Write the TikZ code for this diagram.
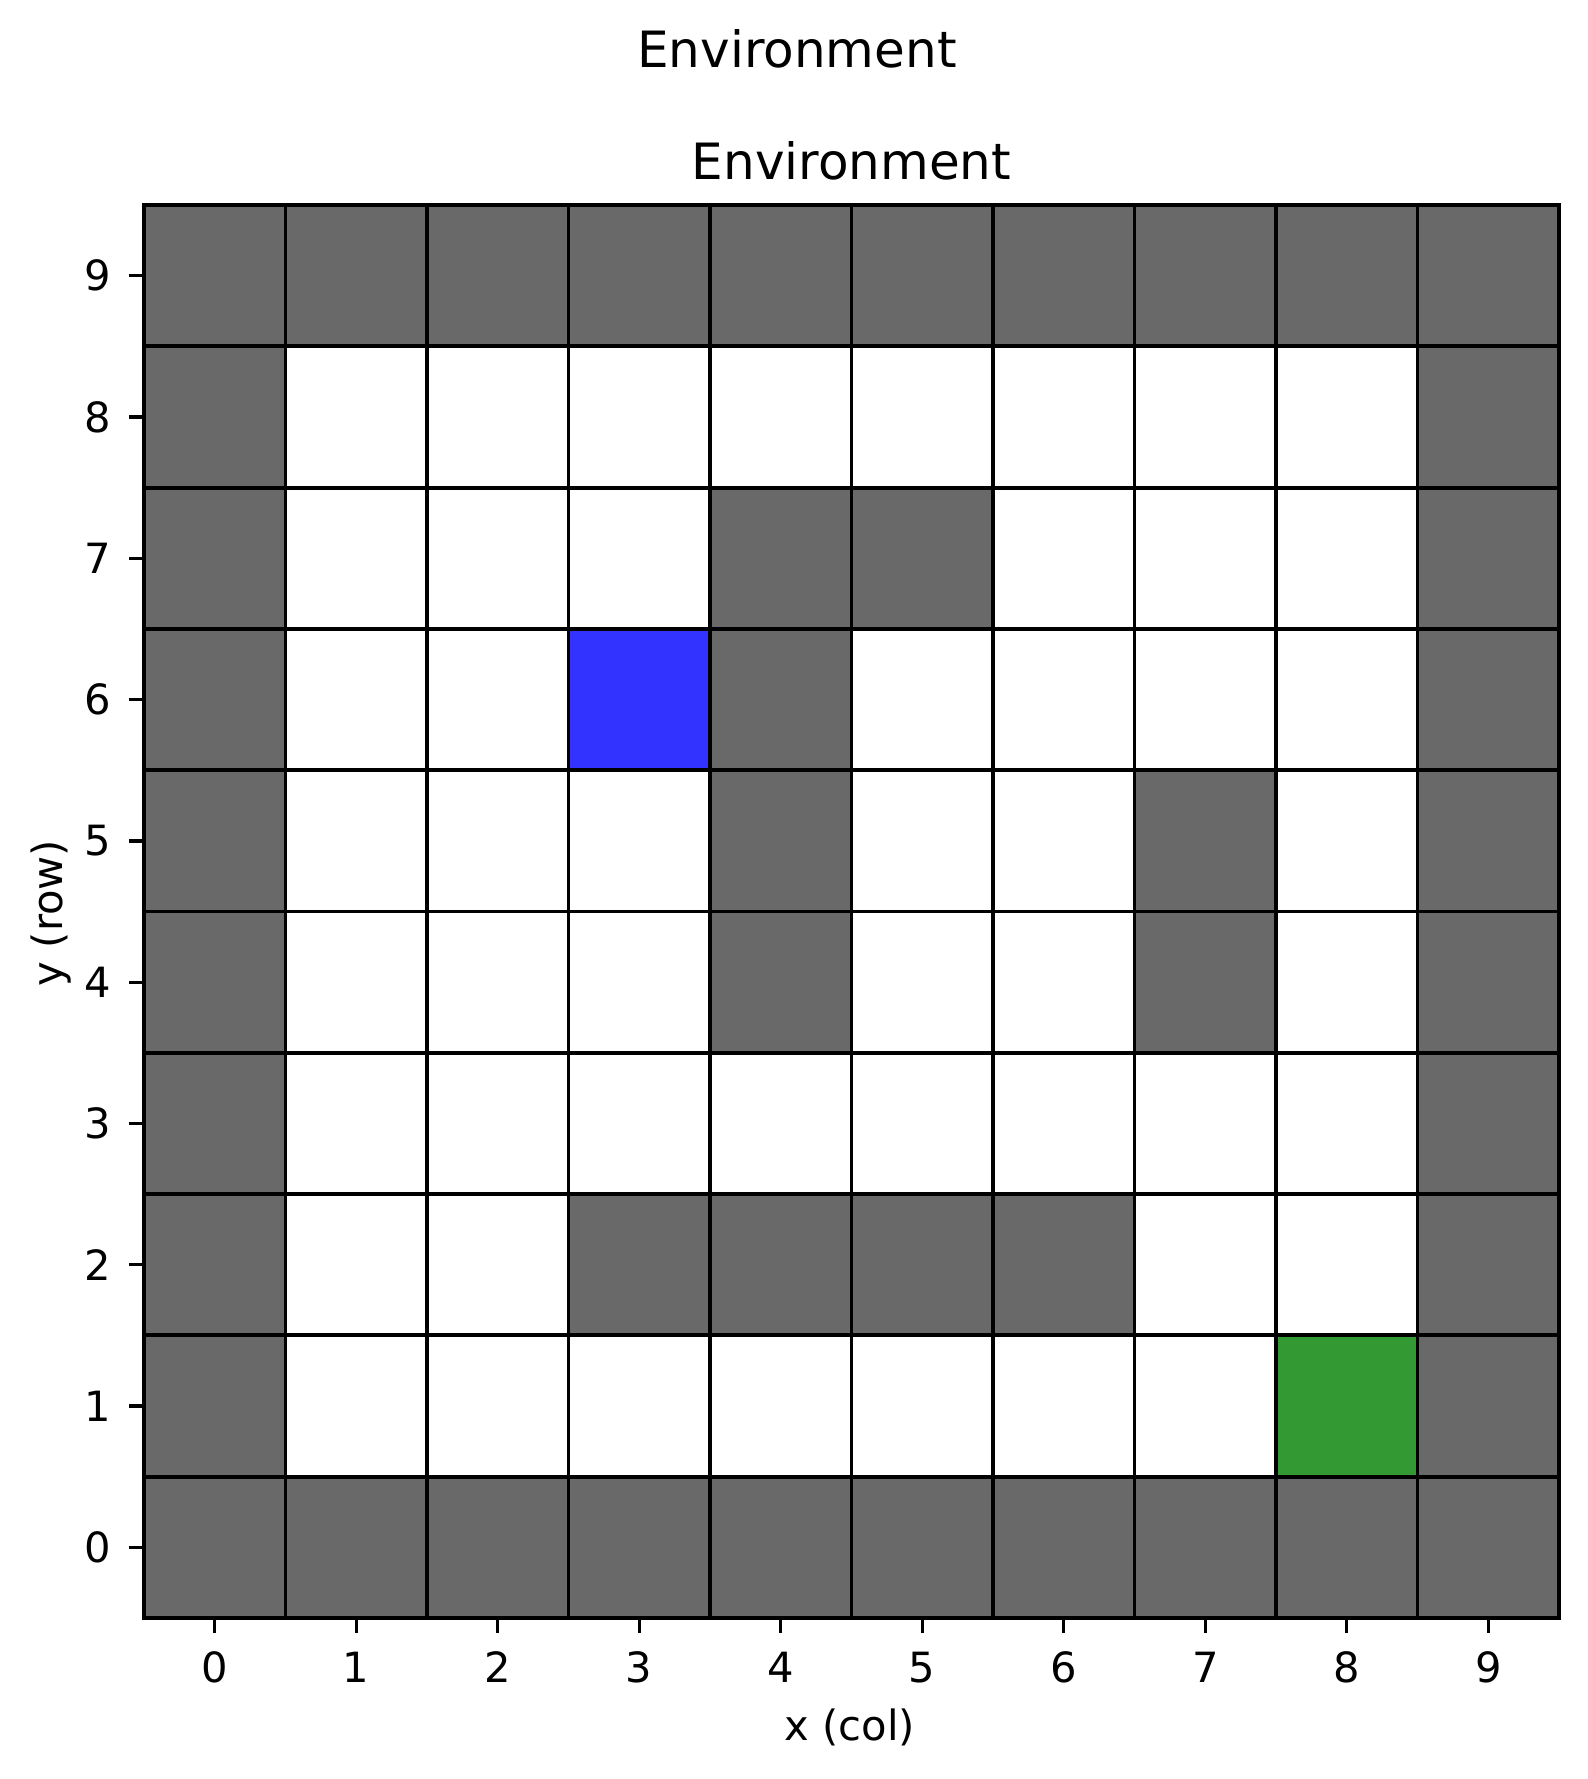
\documentclass[tikz,border=0pt]{standalone}
\usepackage{fontspec}
\setmainfont{DejaVu Sans}
\definecolor{wall}{HTML}{696969}
\definecolor{agent}{HTML}{3333FF}
\definecolor{goal}{HTML}{339933}
\begin{document}
\begin{tikzpicture}[x=0.24pt,y=-0.24pt,
  ticklab/.style={inner sep=0pt,font=\fontsize{10}{12}\selectfont},
  ttl/.style={inner sep=0pt,font=\fontsize{12}{14}\selectfont,anchor=base},
  axlab/.style={inner sep=0pt,font=\fontsize{10}{12}\selectfont,anchor=base},
  gridline/.style={draw=black,line width=0.95pt},
  tickline/.style={draw=black,line width=0.8pt}]
\fill[white] (0,0) rectangle (1588,1779);
\path[use as bounding box] (0,0) rectangle (1588,1779);
\node[ttl] (sup) at (797,68) {Environment};
\node[ttl] (title) at (851.5,180) {Environment};
\begin{scope}[shift={(144,1618)}, x=33.96pt, y=33.912pt]
  \fill[white] (0,0) rectangle (10,10);
  % border walls
  \foreach \c in {0,...,9} {
    \fill[wall] (\c,0) rectangle ++(1,1);
    \fill[wall] (\c,9) rectangle ++(1,1);
  }
  \foreach \r in {1,...,8} {
    \fill[wall] (0,\r) rectangle ++(1,1);
    \fill[wall] (9,\r) rectangle ++(1,1);
  }
  % interior walls
  \foreach \c/\r in {4/7,5/7,4/6,4/5,7/5,4/4,7/4,3/2,4/2,5/2,6/2} {
    \fill[wall] (\c,\r) rectangle ++(1,1);
  }
  \fill[agent] (3,6) rectangle ++(1,1);
  \fill[goal] (8,1) rectangle ++(1,1);
  \foreach \k in {1,...,9} {
    \draw[gridline] (\k,0) -- (\k,10);
    \draw[gridline] (0,\k) -- (10,\k);
  }
  \draw[gridline] (0,0) rectangle (10,10);
  % ticks
  \foreach \i in {0,...,9} {
    \draw[tickline] (\i+0.5,0) -- ++(0pt,-3.5pt);
    \draw[tickline] (0,\i+0.5) -- ++(-3.5pt,0pt);
    \node[ticklab,anchor=base] (xt\i) at ([yshift=-15.36pt]\i+0.5,0) {\i};
    \node[ticklab,anchor=east] (yt\i) at ([xshift=-7.68pt]0,\i+0.5) {\i};
  }
\end{scope}
\node[axlab] (xlab) at (850,1740) {x (col)};
\node[axlab,rotate=90] (ylab) at (62,913) {y (row)};
\end{tikzpicture}
\end{document}
